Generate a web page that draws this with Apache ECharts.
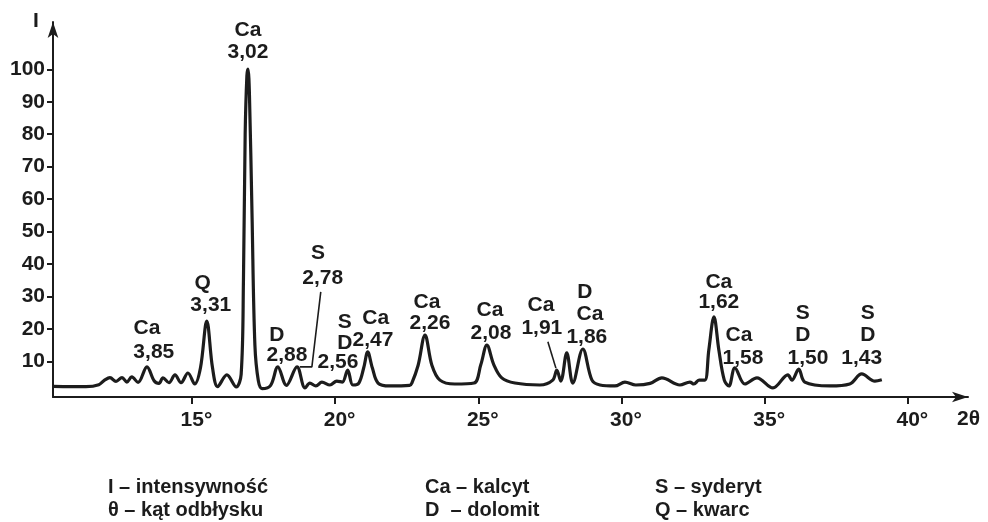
<!DOCTYPE html>
<html>
<head>
<meta charset="utf-8">
<script src="https://cdn.jsdelivr.net/npm/echarts@6/dist/echarts.min.js"></script>
<style>html,body{margin:0;padding:0;background:#fff;}#c{width:988px;height:522px;}</style>
</head>
<body>
<div id="c"></div>
<script>
// 2θ (degrees) and intensity I of the diffractogram trace
var theta = [10.16,11.3,11.75,11.95,12.14,12.35,12.56,12.73,12.9,13.12,13.43,13.68,13.85,13.99,14.2,14.41,14.62,14.86,15.1,15.3,15.52,15.72,15.9,16.22,16.55,16.72,16.8,16.86,16.92,16.96,17.01,17.1,17.2,17.32,17.45,17.75,18.0,18.3,18.67,18.95,19.12,19.33,19.54,19.82,20.06,20.25,20.44,20.62,20.83,21.0,21.14,21.3,21.5,21.9,22.6,22.68,22.9,23.14,23.38,23.66,24.18,24.85,25.09,25.3,25.54,25.82,26.28,27.15,27.6,27.74,27.88,28.09,28.3,28.65,28.97,29.25,29.77,30.12,30.5,31.0,31.41,32.04,32.39,32.53,32.71,32.91,33.05,33.23,33.4,33.59,33.75,33.96,34.31,34.73,35.29,35.81,35.95,36.19,36.4,37.28,37.97,38.39,38.85,39.09];
var intensity = [2.3,2.2,2.8,4.2,5.0,3.8,5.0,3.6,5.2,3.5,8.3,4.0,3.2,4.9,3.4,5.8,3.4,6.4,3.0,8,22.4,8,2.2,5.8,2.1,6,35,80,98,100.1,92,55,15,4,1.6,2.6,8.3,2.6,8.3,1.8,3.3,2.4,3.6,2.7,3.9,3.6,7.3,2.7,3.3,8,12.9,8,3.3,2.4,2.6,3.3,8.8,18.1,8.8,4.2,3.0,3.3,9,15.0,9,4.9,3.3,2.7,4.2,7.3,3.9,12.6,3.3,13.8,4.2,2.7,2.4,3.6,2.7,3.2,4.9,2.7,3.6,3.0,4.2,4.2,13.5,23.7,13.5,4.2,2.4,8.0,3.0,4.9,1.8,5.8,4.2,7.6,3.6,2.4,3.0,6.1,3.9,4.3];

// peak annotations: one entry per text line, [2θ, I, text]
var annTheta = [16.955,16.955,15.38,15.66,13.43,13.67,17.97,18.32,19.40,19.57,20.34,20.34,20.10,21.42,21.32,23.21,23.31,25.41,25.44,27.19,27.22,28.72,28.90,28.79,33.40,33.40,34.10,34.24,36.33,36.33,36.51,38.60,38.60,38.39];
var annI     = [112.1,105.4,34.2,27.4,20.3,12.9,18.1,12.0,43.4,35.7,22.1,15.7,9.8,23.4,16.6,28.3,21.8,25.8,18.7,27.4,20.3,31.4,24.6,17.5,34.5,28.3,18.1,11.0,24.9,18.1,11.0,24.9,18.1,11.0];
var annText  = ['Ca','3,02','Q','3,31','Ca','3,85','D','2,88','S','2,78','S','D','2,56','Ca','2,47','Ca','2,26','Ca','2,08','Ca','1,91','D','Ca','1,86','Ca','1,62','Ca','1,58','S','D','1,50','S','D','1,43'];

// leader lines
var leader1 = [[19.50,31.4],[19.19,8.3],[18.77,8.3]];
var leader2 = [[27.43,16.0],[27.71,7.9]];

// axis ticks
var xTicks = [15,20,25,30,35,40];
var yTicks = [10,20,30,40,50,60,70,80,90,100];

// legend lines
var legendText = [
  ['I – intensywność','Ca – kalcyt','S – syderyt'],
  ['θ – kąt odbłysku','D  – dolomit','Q – kwarc']
];

var INK = '#1c1c1c';
var FONT = 'Liberation Sans';

var curve = theta.map(function(t,i){return [t,intensity[i]];});
var ann = annTheta.map(function(t,i){return [t,annI[i],annText[i]];});

var graphics = [
  {type:'text', left:33, top:11, style:{text:'I', font:'bold 21px "'+FONT+'"', fill:INK}},
  {type:'text', left:957, top:409, style:{text:'2θ', font:'bold 21px "'+FONT+'"', fill:INK}}
];
var colX = [108, 425, 655];
var rowY = [477, 500];
legendText.forEach(function(row,r){
  row.forEach(function(s,c){
    graphics.push({type:'text', left:colX[c], top:rowY[r], style:{text:s, font:'bold 20px "'+FONT+'"', fill:INK}});
  });
});

var chart = echarts.init(document.getElementById('c'), null, {renderer:'canvas'});
chart.setOption({
  animation:false,
  backgroundColor:'#ffffff',
  grid:{left:53, right:20, top:22, bottom:125},
  xAxis:{
    type:'value', min:10.15, max:42.1,
    axisLine:{show:true, lineStyle:{color:INK, width:2}, symbol:['none','arrow'], symbolSize:[8,16], onZero:false},
    axisTick:{show:true, customValues:xTicks, length:7, lineStyle:{color:INK, width:2}},
    axisLabel:{customValues:xTicks, formatter:function(v){return v+'°';}, margin:13, padding:[0,0,0,9],
      fontFamily:FONT, fontSize:21, fontWeight:'bold', color:INK},
    splitLine:{show:false}
  },
  yAxis:{
    type:'value', min:-1, max:114.6,
    axisLine:{show:true, lineStyle:{color:INK, width:2}, symbol:['none','arrow'], symbolSize:[8,16], onZero:false},
    axisTick:{show:true, customValues:yTicks, length:6, lineStyle:{color:INK, width:2}},
    axisLabel:{customValues:yTicks, margin:8, fontFamily:FONT, fontSize:21, fontWeight:'bold', color:INK},
    splitLine:{show:false}
  },
  graphic:graphics,
  series:[
    {type:'line', data:curve, showSymbol:false, symbol:'none', smooth:0.35,
      lineStyle:{color:INK, width:3.2}, silent:true, z:3},
    {type:'line', data:leader1, showSymbol:false, symbol:'none', lineStyle:{color:INK, width:1.6}, silent:true},
    {type:'line', data:leader2, showSymbol:false, symbol:'none', lineStyle:{color:INK, width:1.6}, silent:true},
    {type:'scatter', data:ann, symbolSize:0.001, itemStyle:{color:'rgba(0,0,0,0)', opacity:1}, silent:true,
      label:{show:true, position:'inside', align:'center', verticalAlign:'middle', opacity:1,
        formatter:function(p){return p.data[2];},
        fontFamily:FONT, fontSize:21, fontWeight:'bold', color:INK}}
  ]
});
</script>
</body>
</html>
